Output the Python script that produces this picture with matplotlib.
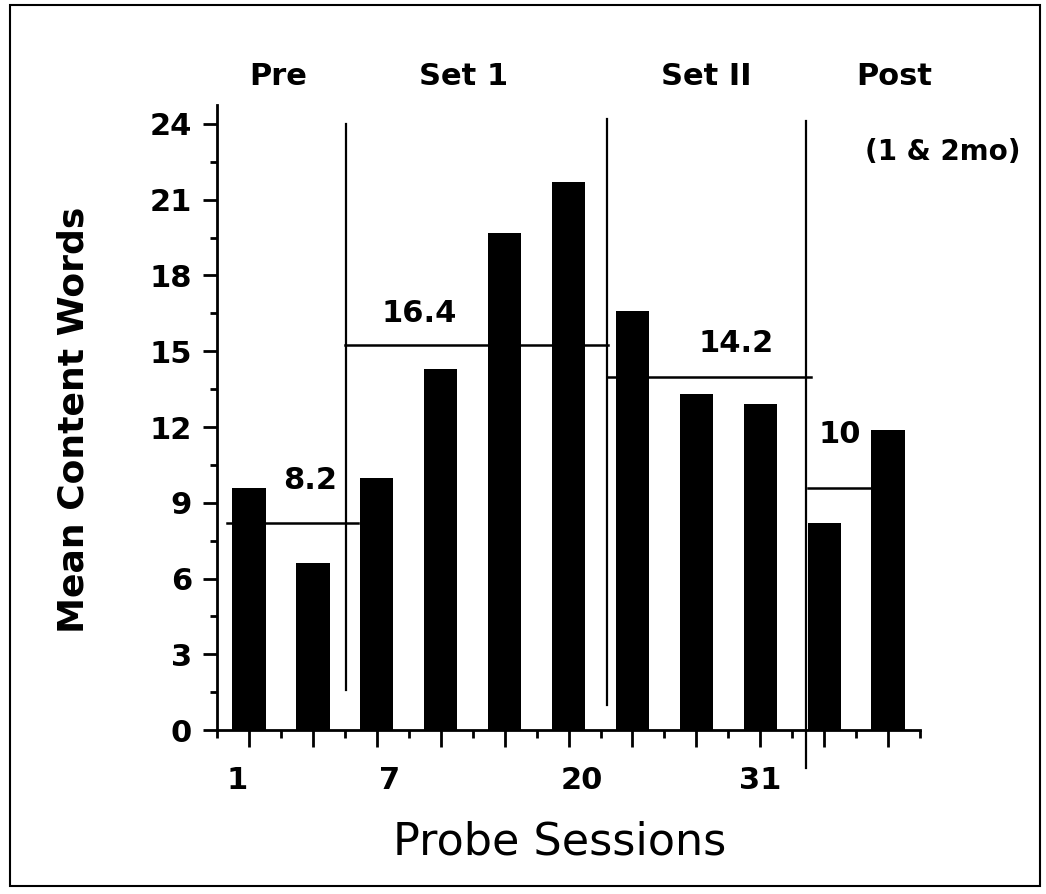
import matplotlib
matplotlib.use("Agg")
import matplotlib.pyplot as plt
from matplotlib.patches import Rectangle
import numpy as np

# ---- data ----
bar_values = [9.6, 6.6, 10.0, 14.3, 19.7, 21.7, 16.6, 13.3, 12.9, 8.2, 11.9]
phase_names = ["Pre", "Set 1", "Set II", "Post"]
phase_means = ["8.2", "16.4", "14.2", "10"]
mean_levels = [8.2, 15.25, 14.0, 9.6]        # where the mean lines are drawn
session_labels = ["1", "7", "20", "31"]

FONT = "DejaVu Sans"
plt.rcParams["font.family"] = FONT

fig = plt.figure(figsize=(10.46, 8.94), dpi=100)
ax = fig.add_axes([0.2075, 0.1834, 0.6721, 0.6991])

pos = np.arange(1, len(bar_values) + 1)
ax.bar(pos, bar_values, width=0.52, color="black", edgecolor="none", zorder=3)

ax.set_xlim(0.5, 11.5)
ax.set_ylim(0, 24.75)
for s in ["top", "right"]:
    ax.spines[s].set_visible(False)
for s in ["left", "bottom"]:
    ax.spines[s].set_linewidth(2.0)

# y ticks: majors every 3, minors in between
ax.set_yticks(np.arange(0, 25, 3))
ax.set_yticks(np.arange(1.5, 24, 3), minor=True)
ax.tick_params(axis="y", which="major", length=10, width=2, pad=8,
               labelsize=22)
ax.tick_params(axis="y", which="minor", length=5, width=2)
for t in ax.get_yticklabels():
    t.set_fontweight("bold")

# x ticks: long under each bar, short between
ax.set_xticks(pos)
ax.set_xticks(np.arange(0.5, 12, 1.0), minor=True)
ax.tick_params(axis="x", which="major", length=12, width=2, labelbottom=False)
ax.tick_params(axis="x", which="minor", length=6, width=2)

# phase dividers
div_x = [2.51, 6.6, 9.72]
div_top = [24.0, 24.2, 24.1]
div_bot = [1.6, 1.0, -1.5]
for x, t, b in zip(div_x, div_top, div_bot):
    ax.plot([x, x], [b, t], color="black", lw=1.6, clip_on=False, zorder=4)

# phase mean lines
mean_start = [0.65, 2.5, 6.6, 9.75]
mean_end = [2.7, 6.62, 9.8, 10.8]
for x0, x1, y in zip(mean_start, mean_end, mean_levels):
    ax.plot([x0, x1], [y, y], color="black", lw=1.8, zorder=2)

mean_txt_xy = [(1.95, 9.9), (3.66, 16.5), (8.62, 15.3), (10.25, 11.7)]
for (x, y), s in zip(mean_txt_xy, phase_means):
    ax.text(x, y, s, ha="center", va="center", fontsize=22,
            fontweight="bold", zorder=5)

# phase headers
head_x = [1.45, 4.36, 8.15, 11.1]
for x, s in zip(head_x, phase_names):
    ax.text(x, 25.9, s, ha="center", va="center", fontsize=22,
            fontweight="bold", clip_on=False)
ax.text(11.85, 22.9, "(1 & 2mo)", ha="center", va="center", fontsize=20,
        fontweight="bold", clip_on=False)

# session labels under the axis
lab_x = [0.82, 3.2, 6.2, 9.0]
for x, s in zip(lab_x, session_labels):
    ax.text(x, -1.98, s, ha="center", va="center", fontsize=22,
            fontweight="bold", clip_on=False)

fig.text(0.07, 0.53, "Mean Content Words", rotation=90, ha="center",
         va="center", fontsize=26, fontweight="bold")
fig.text(560 / 1046, 1 - 842 / 894, "Probe Sessions", ha="center",
         va="center", fontsize=32)

# outer frame
fig.patches.append(Rectangle((10 / 1046, 1 - 886 / 894), 1030 / 1046,
                             881 / 894, transform=fig.transFigure,
                             fill=False, edgecolor="black", lw=1.5))

fig.savefig("out.png", dpi=100)
